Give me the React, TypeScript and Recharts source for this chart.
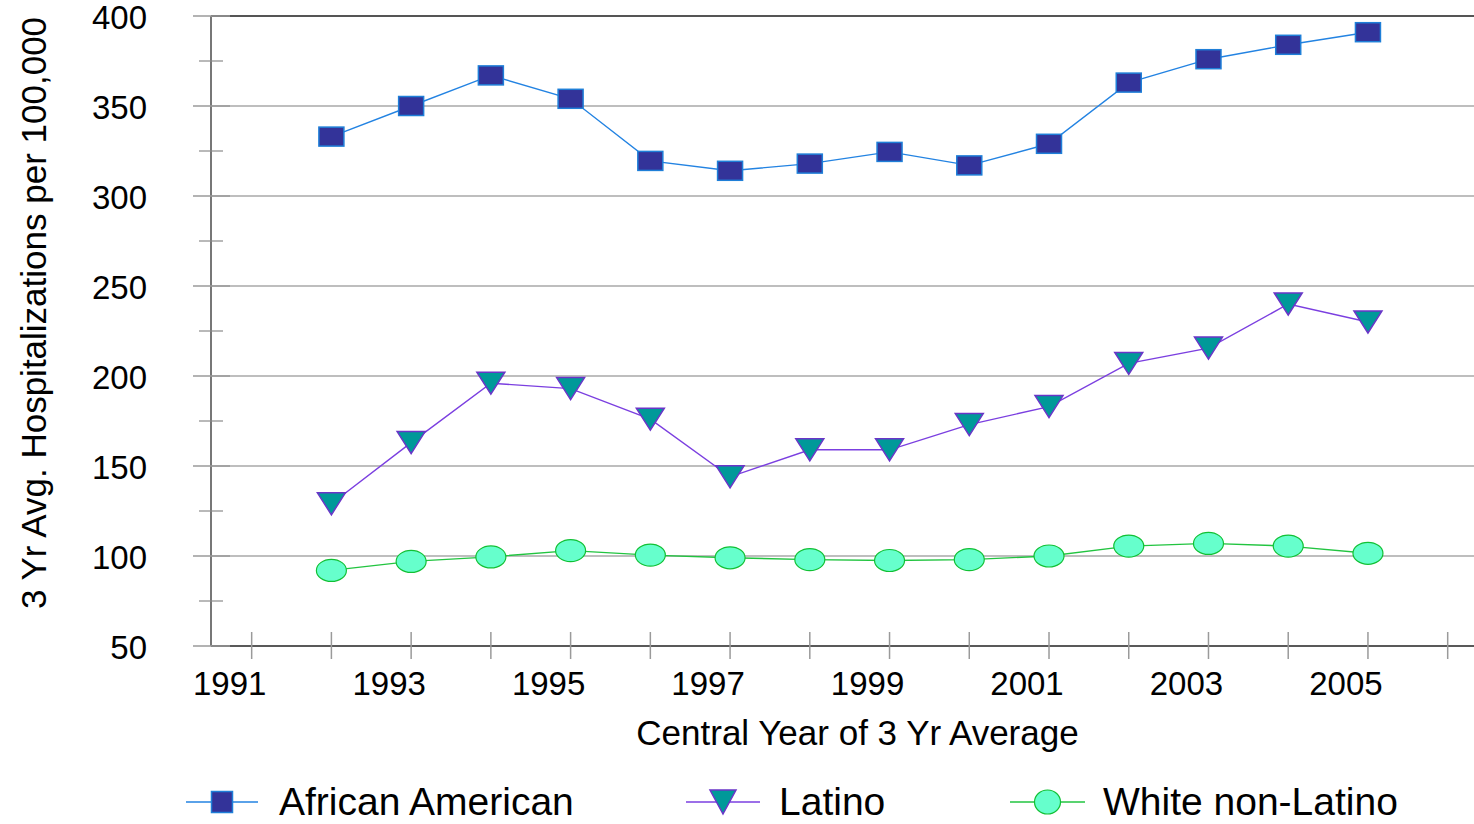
import { LineChart, Line, XAxis, YAxis, ReferenceLine, Legend, Label } from 'recharts'

const YEARS = [1992, 1993, 1994, 1995, 1996, 1997, 1998, 1999, 2000, 2001, 2002, 2003, 2004, 2005]
const AFRICAN_AMERICAN = [333, 350, 367, 354, 319.5, 314, 318, 324.5, 317, 329, 363, 376, 384, 391]
const LATINO = [129, 163, 196, 193, 176, 144, 159, 159, 173, 183, 207, 215.5, 240, 230]
const WHITE_NON_LATINO = [92, 97, 99.5, 103, 100.5, 99, 98, 97.5, 98, 100, 105.5, 107, 105.5, 101.5]

const X_TICKS = [1991, 1992, 1993, 1994, 1995, 1996, 1997, 1998, 1999, 2000, 2001, 2002, 2003, 2004, 2005, 2006]
const Y_TICKS = [50, 75, 100, 125, 150, 175, 200, 225, 250, 275, 300, 325, 350, 375, 400]
const GRID_VALUES = [100, 150, 200, 250, 300, 350]

const SERIES = [
  { key: 'aa', name: 'African American', line: '#2383e2', fill: '#333399', edge: '#1f7fd8', shape: 'square' },
  { key: 'lat', name: 'Latino', line: '#7b3fe0', fill: '#009999', edge: '#6a35c8', shape: 'triangle' },
  { key: 'wnl', name: 'White non-Latino', line: '#22c440', fill: '#66ffcc', edge: '#12c034', shape: 'circle' },
]

const data = YEARS.map((year, i) => ({
  year,
  aa: AFRICAN_AMERICAN[i],
  lat: LATINO[i],
  wnl: WHITE_NON_LATINO[i],
}))

const FONT = '"Liberation Sans", Arial, sans-serif'

function marker(shape: string, cx: number, cy: number, fill: string, edge: string, k?: string, small?: boolean) {
  if (shape === 'square') {
    const w = small ? 21 : 25
    const h = small ? 21 : 19
    return <rect key={k} x={cx - w / 2} y={cy - h / 2} width={w} height={h} fill={fill} stroke={edge} strokeWidth={1.5} />
  }
  if (shape === 'triangle') {
    const w = small ? 26 : 28
    const h = small ? 24 : 22
    const pts = `${cx - w / 2},${cy - h / 2} ${cx + w / 2},${cy - h / 2} ${cx},${cy + h / 2}`
    return <polygon key={k} points={pts} fill={fill} stroke={edge} strokeWidth={1.5} />
  }
  return <ellipse key={k} cx={cx} cy={cy} rx={small ? 13 : 15} ry={small ? 12 : 11} fill={fill} stroke={edge} strokeWidth={1.2} />
}

function XTick(props: any) {
  const { x, y, payload } = props
  const yr = payload.value
  return (
    <g>
      <line x1={x} x2={x} y1={y - 14} y2={y + 13} stroke="#9a9a9a" strokeWidth={1.5} />
      {yr % 2 === 1 && (
        <text x={x - 22} y={y + 49} textAnchor="middle" fontSize={33} fontFamily={FONT} fill="#000">
          {yr}
        </text>
      )}
    </g>
  )
}

function YTick(props: any) {
  const { x, y, payload } = props
  const v = payload.value
  const major = v % 50 === 0
  return (
    <g>
      {major ? (
        <line x1={x - 18} x2={x + 19} y1={y} y2={y} stroke="#9a9a9a" strokeWidth={1.5} />
      ) : (
        <line x1={x - 12} x2={x + 12} y1={y} y2={y} stroke="#8a8a8a" strokeWidth={1.2} />
      )}
      {major && (
        <text x={x - 64} y={y + 13} textAnchor="end" fontSize={33} fontFamily={FONT} fill="#000">
          {v}
        </text>
      )}
    </g>
  )
}

const LEGEND_POS = [
  { x0: 186, x1: 258, tx: 279 },
  { x0: 686, x1: 760, tx: 779 },
  { x0: 1010, x1: 1085, tx: 1103 },
]

function renderLegend() {
  return (
    <svg width={1474} height={44}>
      {SERIES.map((s, i) => {
        const p = LEGEND_POS[i]
        const cx = (p.x0 + p.x1) / 2
        return (
          <g key={s.key}>
            <line x1={p.x0} x2={p.x1} y1={22} y2={22} stroke={s.line} strokeWidth={1.5} />
            {marker(s.shape, cx, 22, s.fill, s.edge, undefined, true)}
            <text x={p.tx} y={35} fontSize={39} fontFamily={FONT} fill="#000">
              {s.name}
            </text>
          </g>
        )
      })}
    </svg>
  )
}

export default function App() {
  return (
    <div style={{ position: 'absolute', left: 0, top: 0, background: '#fff' }}>
      <LineChart width={1474} height={824} data={data} margin={{ top: 16, right: 0, left: 0, bottom: 118 }}>
        {GRID_VALUES.map((v) => (
          <ReferenceLine key={v} y={v} stroke="#a8a8a8" strokeWidth={1.5} />
        ))}
        <ReferenceLine y={400} stroke="#555" strokeWidth={2} />
        <XAxis
          dataKey="year"
          type="number"
          domain={[1990.49, 2006.33]}
          ticks={X_TICKS}
          interval={0}
          allowDataOverflow
          height={60}
          tickSize={0}
          tickMargin={0}
          tickLine={false}
          tick={<XTick />}
          axisLine={{ stroke: '#222', strokeWidth: 1.5 }}
        >
          <Label
            content={(p: any) => {
              const vb = p.viewBox
              return (
                <text x={vb.x + vb.width / 2 + 15} y={vb.y + 99} textAnchor="middle" fontSize={35} fontFamily={FONT} fill="#000">
                  Central Year of 3 Yr Average
                </text>
              )
            }}
          />
        </XAxis>
        <YAxis
          type="number"
          domain={[50, 400]}
          ticks={Y_TICKS}
          interval={0}
          width={211}
          tickSize={0}
          tickMargin={0}
          tickLine={false}
          tick={<YTick />}
          axisLine={{ stroke: '#777', strokeWidth: 2 }}
        >
          <Label
            content={() => (
              <text
                x={46}
                y={313}
                transform="rotate(-90 46 313)"
                textAnchor="middle"
                fontSize={35}
                fontFamily={FONT}
                fill="#000"
              >
                3 Yr Avg. Hospitalizations per 100,000
              </text>
            )}
          />
        </YAxis>
        {SERIES.map((s) => (
          <Line
            key={s.key}
            type="linear"
            dataKey={s.key}
            name={s.name}
            stroke={s.line}
            strokeWidth={1.4}
            isAnimationActive={false}
            activeDot={false}
            dot={(p: any) => marker(s.shape, p.cx, p.cy, s.fill, s.edge, `${s.key}-${p.index}`)}
          />
        ))}
        <Legend
          verticalAlign="middle"
          content={renderLegend}
          wrapperStyle={{ position: 'absolute', left: 0, top: 780, width: 1474, height: 44 }}
        />
      </LineChart>
    </div>
  )
}
